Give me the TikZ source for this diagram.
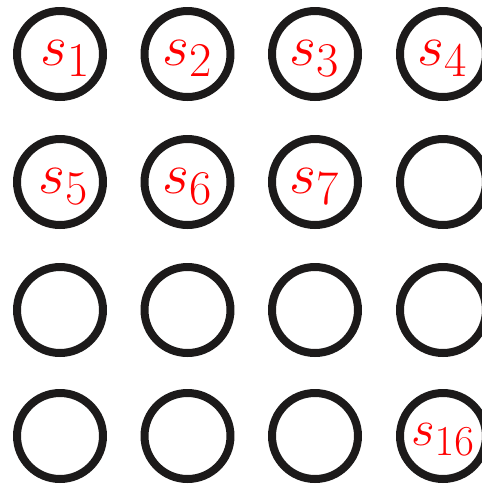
\documentclass[tikz,border=0pt]{standalone}
\usepackage{tikz}
\usetikzlibrary{positioning}

\definecolor{ringgray}{RGB}{28,26,26}
\tikzset{
  ring/.style={circle, draw=ringgray, line width=0.16cm, minimum size=1.72cm,
               inner sep=0pt, text=red},
  lbl/.style={text=red, inner sep=0pt, yshift=-0.09cm, scale=1.33,
              font=\fontsize{24.88}{30}\selectfont},
  smalllbl/.style={lbl, yshift=0.02cm, scale=0.88}
}

\begin{document}
\begin{tikzpicture}[x=0.02cm, y=-0.02cm]
    \useasboundingbox (0,0) rectangle (482,485);

    % ---------------- ROW 1 ----------------
    \node[ring, label={[lbl, xshift=0.08cm]center:$s_1$}] (c1) at (60,54) {};
    \node[ring, label={[lbl]center:$s_2$}] (c2) at (187.5,54) {};
    \node[ring, label={[lbl]center:$s_3$}] (c3) at (315,54) {};
    \node[ring, label={[lbl]center:$s_4$}] (c4) at (443,54) {};

    % ---------------- ROW 2 ----------------
    \node[ring, label={[lbl, xshift=0.06cm]center:$s_5$}] (c5) at (60,182) {};
    \node[ring, label={[lbl]center:$s_6$}] (c6) at (187.5,182) {};
    \node[ring, label={[lbl]center:$s_7$}] (c7) at (315,182) {};
    \node[ring] (c8) at (443,182) {};

    % ---------------- ROW 3 ----------------
    \node[ring] (c9) at (60,310) {};
    \node[ring] (c10) at (187.5,310) {};
    \node[ring] (c11) at (315,310) {};
    \node[ring] (c12) at (443,310) {};

    % ---------------- ROW 4 ----------------
    \node[ring] (c13) at (60,436) {};
    \node[ring] (c14) at (187.5,436) {};
    \node[ring] (c15) at (315,436) {};
    \node[ring, label={[smalllbl]center:$s_{16}$}] (c16) at (443,436) {};
\end{tikzpicture}
\end{document}
